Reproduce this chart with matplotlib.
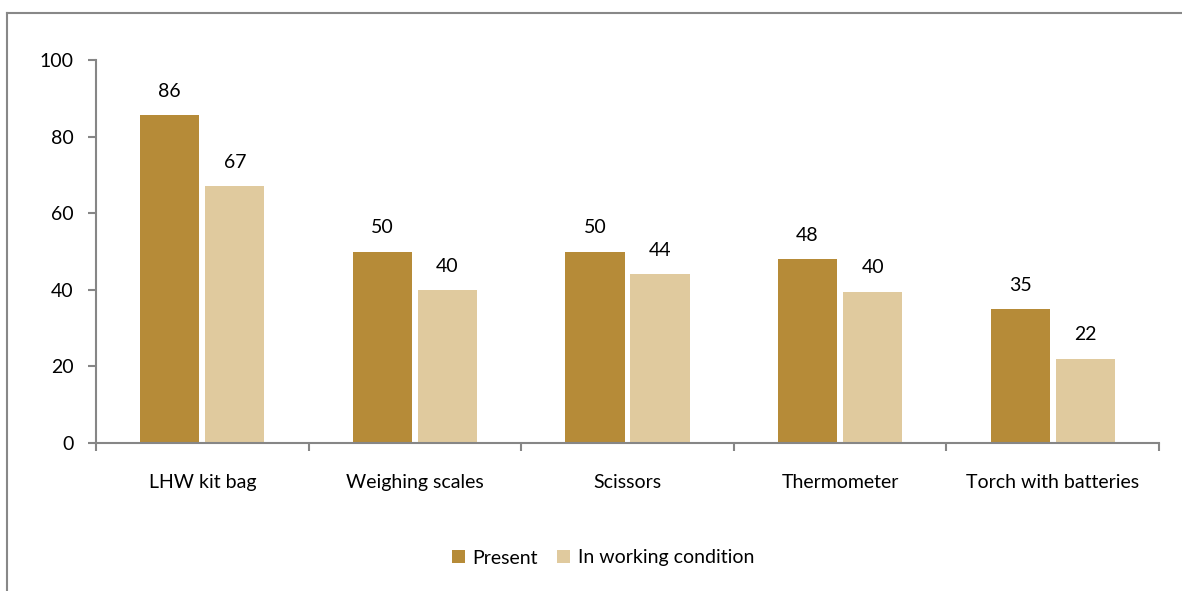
import matplotlib
matplotlib.use("Agg")
import matplotlib.pyplot as plt
from matplotlib.lines import Line2D
import numpy as np

categories = ["LHW kit bag", "Weighing scales", "Scissors", "Thermometer", "Torch with batteries"]
present = [85.6, 50, 50, 48, 35]
working = [67, 40, 44, 39.5, 22]
series_names = ["Present", "In working condition"]
yticks = [0, 20, 40, 60, 80, 100]

plt.rcParams['font.family'] = ['Lato', 'DejaVu Sans']
FS = 14

W, H = 1182, 591
fig = plt.figure(figsize=(W/100, H/100), dpi=100)
ax = fig.add_axes([96/W, 1-443/H, (1159-96)/W, (443-60)/H])

x = np.arange(len(categories))
bw = 0.278
c1, c2 = "#B68B38", "#E0CA9E"
b1 = ax.bar(x - 0.153, present, bw, color=c1, label=series_names[0])
b2 = ax.bar(x + 0.153, working, bw, color=c2, label=series_names[1])

for bars, vals in ((b1, present), (b2, working)):
    for r, v in zip(bars, vals):
        ax.annotate(f"{v:.0f}", (r.get_x() + r.get_width()/2, v), xytext=(0, 11),
                    textcoords="offset points", ha="center", va="bottom", fontsize=FS, color="black")

ax.set_xlim(-0.5, len(categories) - 0.5)
ax.set_ylim(0, 100)
ax.set_yticks(yticks)
ax.set_yticklabels([str(t) for t in yticks], fontsize=FS)
ax.tick_params(axis='y', direction='out', length=6, color="#868686", width=1.5, pad=10)

ax.set_xticks(np.arange(-0.5, len(categories), 1.0))
ax.set_xticklabels([])
ax.set_xticks(x, minor=True)
ax.set_xticklabels(categories, minor=True, fontsize=FS)
ax.tick_params(axis='x', which='major', direction='out', length=6, color="#868686", width=1.5)
ax.tick_params(axis='x', which='minor', length=0, pad=22)

for s in ("top", "right"):
    ax.spines[s].set_visible(False)
for s in ("left", "bottom"):
    ax.spines[s].set_color("#868686")
    ax.spines[s].set_linewidth(1.5)

leg = fig.legend(handles=[b1, b2], labels=series_names, loc="center", bbox_to_anchor=(603/W, 1-558/H),
                 ncol=2, frameon=False, fontsize=FS, handlelength=0.65, handleheight=0.65,
                 handletextpad=0.4, columnspacing=1.0)

fig.add_artist(Line2D([6.5/W, 6.5/W], [0, 1-13/H], transform=fig.transFigure, color="#888888", lw=1.5))
fig.add_artist(Line2D([6.5/W, 1], [1-13/H, 1-13/H], transform=fig.transFigure, color="#888888", lw=1.5))

fig.savefig("out.png", dpi=100)
